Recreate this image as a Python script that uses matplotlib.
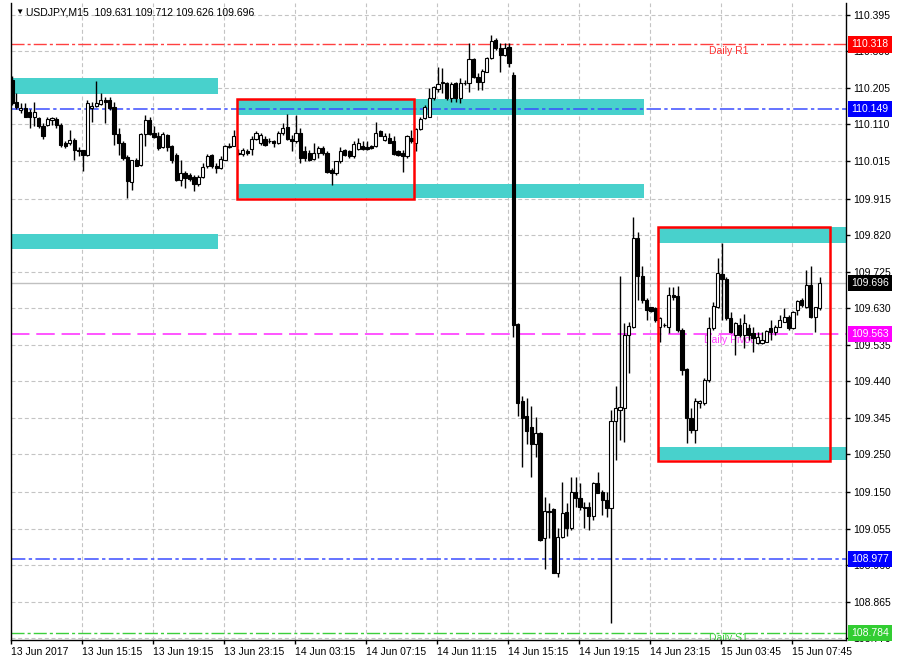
import numpy as np
import matplotlib.pyplot as plt
from matplotlib.patches import Rectangle
import matplotlib.transforms as mtransforms

plt.rcParams['font.family'] = ['Liberation Sans', 'DejaVu Sans']

# USDJPY M15 candles (open, high, low, close), oldest first
opens = [110.226, 110.169, 110.148, 110.152, 110.143, 110.129, 110.126, 110.106, 110.109, 110.120,
         110.123, 110.109, 110.061, 110.061, 110.069, 110.043, 110.042, 110.030, 110.152, 110.158,
         110.163, 110.172, 110.172, 110.156, 110.085, 110.061, 110.024, 109.958, 110.017, 110.004,
         110.085, 110.122, 110.087, 110.080, 110.050, 110.082, 110.054, 110.030, 109.965, 109.983,
         109.978, 109.972, 109.955, 109.972, 110.000, 110.029, 110.002, 109.996, 110.017, 110.054,
         110.054, 110.034, 110.033, 110.041, 110.045, 110.071, 110.060, 110.071, 110.067, 110.065,
         110.060, 110.086, 110.102, 110.071, 110.065, 110.088, 110.039, 110.036, 110.019, 110.036,
         110.047, 110.036, 109.991, 109.984, 110.013, 110.043, 110.039, 110.026, 110.045, 110.052,
         110.050, 110.052, 110.052, 110.091, 110.069, 110.073, 110.065, 110.039, 110.036, 110.026,
         110.073, 110.062, 110.097, 110.126, 110.130, 110.178, 110.201, 110.217, 110.217, 110.178,
         110.217, 110.178, 110.218, 110.217, 110.279, 110.234, 110.219, 110.247, 110.282, 110.330,
         110.308, 110.291, 110.312, 110.239, 109.589, 109.387, 109.348, 109.321, 109.276, 109.306,
         109.030, 109.101, 109.106, 108.941, 109.033, 109.100, 109.056, 109.152, 109.135, 109.109,
         109.111, 109.089, 109.174, 109.152, 109.130, 109.109, 109.337, 109.365, 109.369, 109.560,
         109.582, 109.813, 109.713, 109.652, 109.633, 109.630, 109.582, 109.586, 109.582, 109.665,
         109.662, 109.574, 109.471, 109.343, 109.313, 109.382, 109.382, 109.443, 109.578, 109.634,
         109.720, 109.706, 109.604, 109.560, 109.587, 109.560, 109.578, 109.565, 109.539, 109.539,
         109.543, 109.578, 109.569, 109.582, 109.595, 109.607, 109.578, 109.626, 109.652, 109.634,
         109.691, 109.607, 109.631]
highs = [110.235, 110.191, 110.165, 110.165, 110.149, 110.167, 110.130, 110.113, 110.130, 110.130,
         110.130, 110.113, 110.065, 110.096, 110.074, 110.050, 110.043, 110.172, 110.169, 110.222,
         110.191, 110.182, 110.181, 110.167, 110.100, 110.065, 110.030, 110.017, 110.022, 110.087,
         110.135, 110.130, 110.104, 110.089, 110.089, 110.085, 110.056, 110.035, 110.017, 109.987,
         109.983, 109.978, 109.978, 110.009, 110.033, 110.033, 110.009, 110.026, 110.056, 110.061,
         110.096, 110.045, 110.047, 110.045, 110.078, 110.091, 110.086, 110.078, 110.073, 110.069,
         110.091, 110.113, 110.137, 110.082, 110.134, 110.099, 110.052, 110.043, 110.060, 110.053,
         110.052, 110.039, 109.995, 110.015, 110.050, 110.045, 110.043, 110.065, 110.073, 110.065,
         110.067, 110.056, 110.117, 110.095, 110.086, 110.086, 110.078, 110.043, 110.043, 110.082,
         110.095, 110.099, 110.128, 110.160, 110.204, 110.210, 110.259, 110.256, 110.221, 110.219,
         110.221, 110.230, 110.225, 110.321, 110.282, 110.243, 110.253, 110.285, 110.343, 110.334,
         110.321, 110.321, 110.321, 110.245, 109.591, 109.400, 109.395, 109.375, 109.346, 109.308,
         109.139, 109.122, 109.109, 109.056, 109.176, 109.122, 109.191, 109.191, 109.174, 109.126,
         109.126, 109.178, 109.202, 109.157, 109.152, 109.365, 109.428, 109.713, 109.591, 109.595,
         109.869, 109.830, 109.739, 109.656, 109.634, 109.634, 109.606, 109.592, 109.685, 109.685,
         109.688, 109.578, 109.474, 109.369, 109.395, 109.392, 109.448, 109.608, 109.647, 109.760,
         109.800, 109.711, 109.621, 109.593, 109.604, 109.615, 109.589, 109.582, 109.569, 109.569,
         109.574, 109.600, 109.587, 109.613, 109.630, 109.613, 109.624, 109.652, 109.656, 109.730,
         109.739, 109.634, 109.712]
lows = [110.161, 110.149, 110.139, 110.129, 110.100, 110.104, 110.100, 110.071, 110.104, 110.109,
        110.100, 110.050, 110.048, 110.056, 110.017, 110.026, 109.987, 110.028, 110.117, 110.156,
        110.161, 110.113, 110.148, 110.056, 110.030, 110.017, 109.917, 109.939, 110.000, 110.000,
        110.052, 110.082, 110.074, 110.043, 110.048, 110.039, 110.010, 109.963, 109.950, 109.943,
        109.961, 109.935, 109.950, 109.970, 109.996, 109.996, 109.983, 109.993, 110.016, 110.048,
        110.052, 110.030, 110.026, 110.030, 110.030, 110.069, 110.056, 110.053, 110.060, 110.050,
        110.059, 110.082, 110.069, 110.039, 110.060, 110.008, 110.013, 110.015, 110.017, 110.021,
        110.030, 109.982, 109.952, 109.978, 110.008, 110.026, 110.021, 110.021, 110.043, 110.043,
        110.043, 110.045, 110.050, 110.078, 110.065, 110.060, 110.030, 110.027, 109.986, 110.021,
        110.062, 110.039, 110.095, 110.123, 110.128, 110.173, 110.195, 110.191, 110.173, 110.169,
        110.169, 110.166, 110.212, 110.195, 110.230, 110.200, 110.198, 110.245, 110.279, 110.304,
        110.245, 110.288, 110.260, 109.556, 109.348, 109.217, 109.276, 109.191, 109.243, 109.024,
        108.950, 109.030, 108.939, 108.930, 109.030, 109.035, 109.052, 109.113, 109.104, 109.056,
        109.052, 109.078, 109.148, 109.091, 109.087, 108.809, 109.235, 109.287, 109.280, 109.461,
        109.578, 109.652, 109.643, 109.600, 109.621, 109.595, 109.543, 109.582, 109.565, 109.652,
        109.569, 109.456, 109.278, 109.304, 109.278, 109.370, 109.378, 109.439, 109.574, 109.630,
        109.600, 109.600, 109.565, 109.508, 109.556, 109.526, 109.547, 109.517, 109.537, 109.537,
        109.541, 109.547, 109.560, 109.580, 109.593, 109.574, 109.575, 109.613, 109.634, 109.630,
        109.604, 109.569, 109.626]
closes = [110.165, 110.156, 110.152, 110.130, 110.129, 110.143, 110.104, 110.080, 110.123, 110.126,
          110.109, 110.056, 110.052, 110.069, 110.043, 110.041, 110.030, 110.165, 110.158, 110.165,
          110.172, 110.169, 110.152, 110.085, 110.061, 110.022, 109.961, 110.017, 110.002, 110.085,
          110.120, 110.085, 110.076, 110.048, 110.085, 110.050, 110.017, 109.965, 109.983, 109.970,
          109.967, 109.955, 109.972, 109.998, 110.028, 110.000, 109.995, 110.019, 110.054, 110.050,
          110.078, 110.033, 110.043, 110.034, 110.071, 110.086, 110.082, 110.056, 110.066, 110.060,
          110.088, 110.101, 110.071, 110.065, 110.088, 110.021, 110.021, 110.017, 110.036, 110.047,
          110.036, 109.986, 109.984, 110.013, 110.041, 110.030, 110.026, 110.059, 110.060, 110.045,
          110.045, 110.047, 110.086, 110.079, 110.078, 110.060, 110.033, 110.030, 110.026, 110.078,
          110.065, 110.097, 110.123, 110.156, 110.178, 110.206, 110.215, 110.219, 110.178, 110.215,
          110.178, 110.217, 110.217, 110.279, 110.234, 110.219, 110.248, 110.282, 110.326, 110.308,
          110.291, 110.308, 110.269, 109.586, 109.384, 109.343, 109.311, 109.276, 109.306, 109.026,
          109.101, 109.099, 108.941, 109.033, 109.097, 109.056, 109.152, 109.135, 109.113, 109.113,
          109.089, 109.174, 109.149, 109.130, 109.109, 109.337, 109.369, 109.372, 109.560, 109.584,
          109.813, 109.713, 109.652, 109.626, 109.624, 109.600, 109.604, 109.587, 109.665, 109.660,
          109.574, 109.469, 109.343, 109.313, 109.387, 109.387, 109.443, 109.578, 109.636, 109.723,
          109.706, 109.604, 109.569, 109.591, 109.560, 109.591, 109.560, 109.552, 109.556, 109.547,
          109.571, 109.569, 109.582, 109.600, 109.608, 109.578, 109.621, 109.650, 109.639, 109.691,
          109.607, 109.633, 109.696]

time_labels = ['13 Jun 2017', '13 Jun 15:15', '13 Jun 19:15', '13 Jun 23:15', '14 Jun 03:15',
               '14 Jun 07:15', '14 Jun 11:15', '14 Jun 15:15', '14 Jun 19:15', '14 Jun 23:15',
               '15 Jun 03:45', '15 Jun 07:45']
price_ticks = [110.395, 110.300, 110.205, 110.110, 110.015, 109.915, 109.820, 109.725, 109.630,
               109.535, 109.440, 109.345, 109.250, 109.150, 109.055, 108.960, 108.865, 108.770]

daily_r1 = 110.318
daily_pivot = 109.563
daily_s1 = 108.784
blue_levels = [110.149, 108.977]
last_price = 109.696

# drawn objects: (bar from, bar to, price low, price high)
zones = [(-0.3, 46.4, 110.189, 110.230), (-0.3, 46.4, 109.785, 109.824),
         (50.7, 142.4, 110.134, 110.175), (50.7, 142.4, 109.917, 109.954),
         (145.6, 190.0, 109.801, 109.841), (145.6, 190.0, 109.234, 109.269)]
boxes = [(50.7, 90.6, 109.914, 110.175), (145.6, 184.3, 109.232, 109.841)]

W, H = 902, 661
fig = plt.figure(figsize=(W / 100, H / 100), dpi=100)
ax = fig.add_axes([11 / W, (H - 640) / H, 835 / W, 637 / H])

n = len(closes)
x = np.arange(n)
o = np.array(opens); c = np.array(closes)
hi = np.array(highs); lo = np.array(lows)

for x0, x1, p0, p1 in zones:
    ax.add_patch(Rectangle((x0, p0), x1 - x0, p1 - p0, fc='#48d1cc', ec='none', zorder=1))

dashdot = (0, (9.4, 2.2, 2.2, 2.2))
ax.axhline(daily_r1, color='#ff4040', lw=1, ls=dashdot, zorder=2)
for lv in blue_levels:
    ax.axhline(lv, color='#3a4dff', lw=1.1, ls=dashdot, zorder=2)
ax.axhline(daily_s1, color='#3ccf3c', lw=1, ls=dashdot, zorder=2)
ax.axhline(daily_pivot, color='#ff55ff', lw=1.4, ls=(0, (9.5, 3.5)), zorder=2)
ax.axhline(last_price, color='#c0c0c0', lw=1, zorder=2)

lab_x = 161.5
ax.text(lab_x, daily_r1 - 0.004, 'Daily R1', color='#ff3030', fontsize=7.5,
        ha='center', va='top', zorder=2)
ax.text(lab_x, daily_pivot - 0.002, 'Daily Pivot', color='#ff40ff', fontsize=7.5,
        ha='center', va='top', zorder=2)
ax.text(lab_x, daily_s1 - 0.002, 'Daily S1', color='#3ccf3c', fontsize=7.5,
        ha='center', va='top', zorder=2, clip_on=True)

# candles
ax.vlines(x, lo, hi, color='black', lw=1.0, zorder=4)
up = c >= o
ax.bar(x, np.maximum(np.abs(c - o), 0.0005), bottom=np.minimum(o, c), width=0.72,
       color=np.where(up, 'white', 'black'), edgecolor='black', linewidth=0.8, zorder=5)

for x0, x1, p0, p1 in boxes:
    ax.add_patch(Rectangle((x0, p0), x1 - x0, p1 - p0, fill=False, ec='#ff0000', lw=1.8, zorder=6))

ax.set_xlim(-0.225, 187.94)
ax.set_ylim(108.765, 110.426)

ax.yaxis.tick_right()
ax.set_yticks(price_ticks)
ax.set_yticklabels(['%.3f' % p for p in price_ticks])
ax.set_xticks(np.arange(len(time_labels)) * 16 - 0.15)
ax.set_xticklabels(time_labels, ha='left')
ax.tick_params(axis='both', direction='out', length=3, width=1, labelsize=7.5,
               colors='black', pad=2)
ax.grid(True, color='#c4c4c4', lw=0.8, ls=(0, (3.6, 2.4)))
ax.set_axisbelow(True)
for s in ax.spines.values():
    s.set_color('black'); s.set_linewidth(1)
ax.spines['top'].set_visible(False)

# value boxes on the price scale, covering the tick labels beneath them
trans = mtransforms.blended_transform_factory(ax.transAxes, ax.transData)
for val, col in [(daily_r1, '#ff0000'), (blue_levels[0], '#0000ff'), (last_price, 'black'),
                 (daily_pivot, '#ff00ff'), (blue_levels[1], '#0000ff'), (daily_s1, '#32cd32')]:
    ax.text(1.0065, val, '%.3f' % val, transform=trans, ha='left', va='center', fontsize=7.5,
            color='white', clip_on=False, zorder=10,
            bbox=dict(boxstyle='square,pad=0.3', fc=col, ec='none'))

ax.text(0.0055, 0.9915, '▼', transform=ax.transAxes, fontsize=6, va='top', ha='left')
ax.text(0.0185, 0.993, 'USDJPY,M15  109.631 109.712 109.626 109.696', transform=ax.transAxes,
        fontsize=7.5, va='top', ha='left')

fig.savefig('out.png', dpi=100)
